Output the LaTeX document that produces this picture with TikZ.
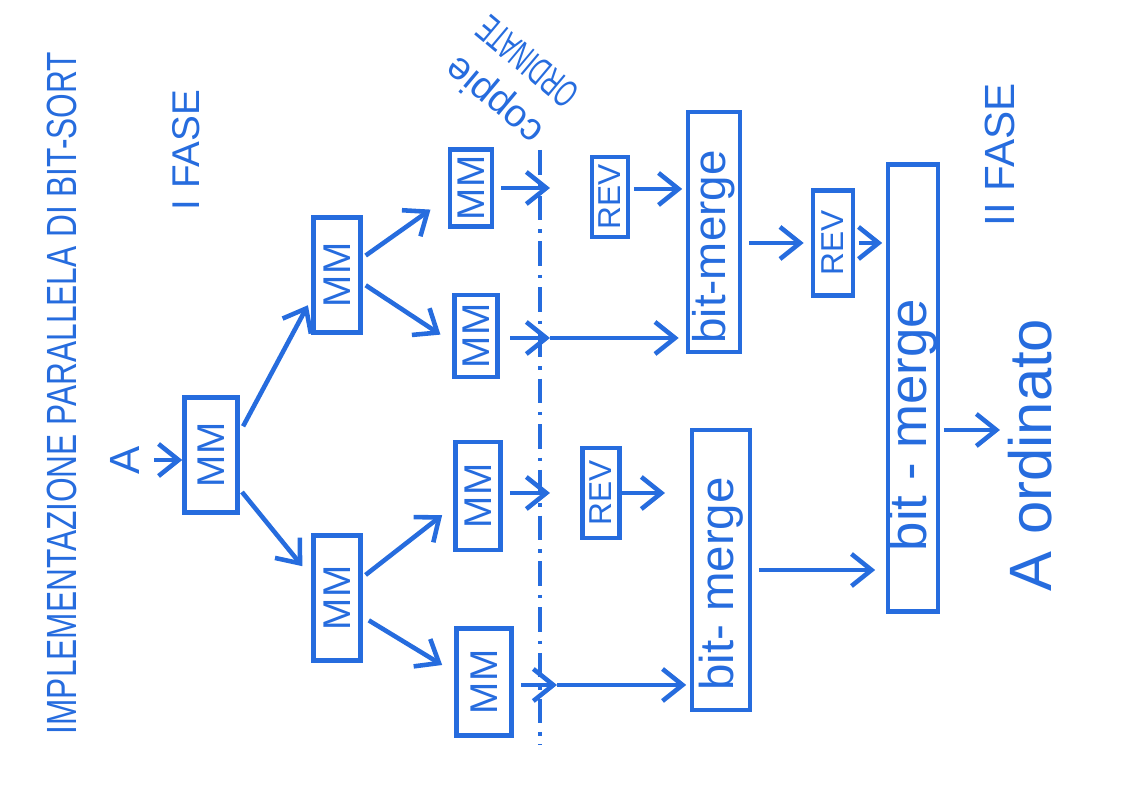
\documentclass[tikz,border=0pt]{standalone}
\usepackage{fontspec}
\setmainfont{Liberation Sans}
\usetikzlibrary{arrows.meta}
\definecolor{pen}{RGB}{38,108,222}
\newcommand\rotx[1]{\rotatebox{90}{#1}}
\begin{document}
\begin{tikzpicture}[x=0.01cm,y=-0.01cm,
  every node/.style={text=pen},
  box/.style={draw=pen, line width=1.3pt, inner sep=0pt},
  wh/.style 2 args={minimum width=#1*0.01cm, minimum height=#2*0.01cm},
  mmf/.style={font=\fontsize{11}{13}\selectfont},
  revf/.style={font=\fontsize{9}{11}\selectfont},
  arr/.style={draw=pen, line width=1.3pt, -{Straight Barb[length=2mm,width=3.2mm]}},
  lbl/.style={inner sep=0pt}]
\useasboundingbox (0,0) rectangle (1135,789);

% titles
\node[lbl] (title) at (62,393) {\rotx{\scalebox{0.75}[1]{\fontsize{12}{14}\selectfont IMPLEMENTAZIONE PARALLELA DI BIT-SORT}}};
\node[lbl] (fase1) at (186,150) {\rotx{\fontsize{11}{13}\selectfont I FASE}};
\node[lbl] (fase2) at (1000,155) {\rotx{\fontsize{12}{14}\selectfont II FASE}};
\node[lbl] (A) at (125,460) {\rotx{\fontsize{12}{14}\selectfont A}};
\node[lbl] (ord) at (1030,455) {\rotx{\fontsize{17}{19}\selectfont A ordinato}};
\node[lbl, rotate=140, align=center] (coppie) at (510,82)
  {\fontsize{11}{12}\selectfont coppie\\[3pt] \scalebox{0.6}[1]{\fontsize{11}{12}\selectfont ORDINATE}};

% boxes
\node[box, wh={53}{115}, mmf] (mm1) at (211,455) {\rotx{MM}};
\node[box, wh={47}{115}, mmf] (mm2) at (337,275) {\rotx{MM}};
\node[box, wh={47}{125}, mmf] (mm3) at (337,598) {\rotx{MM}};
\node[box, wh={42}{77}, mmf] (l1) at (471,188) {\rotx{MM}};
\node[box, wh={43}{82}, mmf] (l2) at (476,336) {\rotx{MM}};
\node[box, wh={45}{108}, mmf] (l3) at (478,496) {\rotx{MM}};
\node[box, wh={55}{107}, mmf] (l4) at (484,682) {\rotx{MM}};
\node[box, wh={36}{80}, revf] (rev1) at (610,197) {\rotx{REV}};
\node[box, wh={37}{90}, revf] (rev3) at (601,493) {\rotx{REV}};
\node[box, wh={40}{105}, revf] (rev2) at (833,243) {\rotx{REV}};
\node[box, wh={52}{240}, font=\fontsize{13}{15}\selectfont] (bm1) at (714,232) {\rotx{bit-merge\hspace{0.3cm}}};
\node[box, wh={58}{280}, font=\fontsize{13.5}{15}\selectfont] (bm2) at (721,570) {\rotx{bit- merge\hspace{0.28cm}}};
\node[box, wh={50}{447}, font=\fontsize{15}{17}\selectfont] (bm3) at (913,388) {\rotx{bit - merge\hspace{0.74cm}}};

% dash-dot separator
\draw[pen, line width=1.1pt, dash pattern=on 7pt off 2.5pt on 1pt off 2.5pt] (540,150) -- (540,745);
\coordinate (c1) at (550,188);
\coordinate (c2) at (550,338);
\coordinate (c3) at (550,493);
\coordinate (c4) at (557,685);
\coordinate (rout) at (665,493);
\coordinate (out) at (1000,430);

% connectors
\draw[arr, shorten <=4pt] (A) -- (A -| mm1.west);
\draw[arr, shorten <=2pt, shorten >=2pt] (mm1.38) -- (mm2.223);
\draw[arr, shorten <=1pt, shorten >=4pt] (mm1.-50) -- (mm3.141);
\draw[arr, shorten <=1pt, shorten >=6pt] (mm2.34) -- (l1.202);
\draw[arr, shorten <=1pt, shorten >=4pt] (mm2.-18) -- (l2.195);
\draw[arr, shorten <=1pt, shorten >=4pt] (mm3.39) -- (l3.203);
\draw[arr, shorten <=2pt, shorten >=4pt] (mm3.-36) -- (l4.162);
\draw[arr, shorten <=2pt] (l1.east) -- (c1);
\draw[arr, shorten <=3pt] (l2.east |- c2) -- (c2);
\draw[arr, shorten >=2pt] (c2) -- (c2 -| bm1.west);
\draw[arr, shorten <=2pt] (l3.east |- c3) -- (c3);
\draw[arr, shorten <=2pt] (l4.east |- c4) -- (c4);
\draw[arr, shorten >=1pt] (c4) -- (c4 -| bm2.west);
\draw[arr, shorten <=1pt, shorten >=1pt] ([yshift=0.08cm]rev1.east) -- ([yshift=0.08cm]rev1.east -| bm1.west);
\draw[arr] (rev3.east) -- (rout);
\draw[arr, shorten <=2pt, shorten >=2pt] (rev2.west -| bm1.east) -- (rev2.west);
\draw[arr, shorten <=1pt, shorten >=1pt] (rev2.east) -- (rev2.east -| bm3.west);
\draw[arr, shorten <=2pt, shorten >=3pt] (bm2.east) -- (bm2.east -| bm3.west);
\draw[arr, shorten <=1pt] (bm3.east |- out) -- (out);
\end{tikzpicture}
\end{document}
